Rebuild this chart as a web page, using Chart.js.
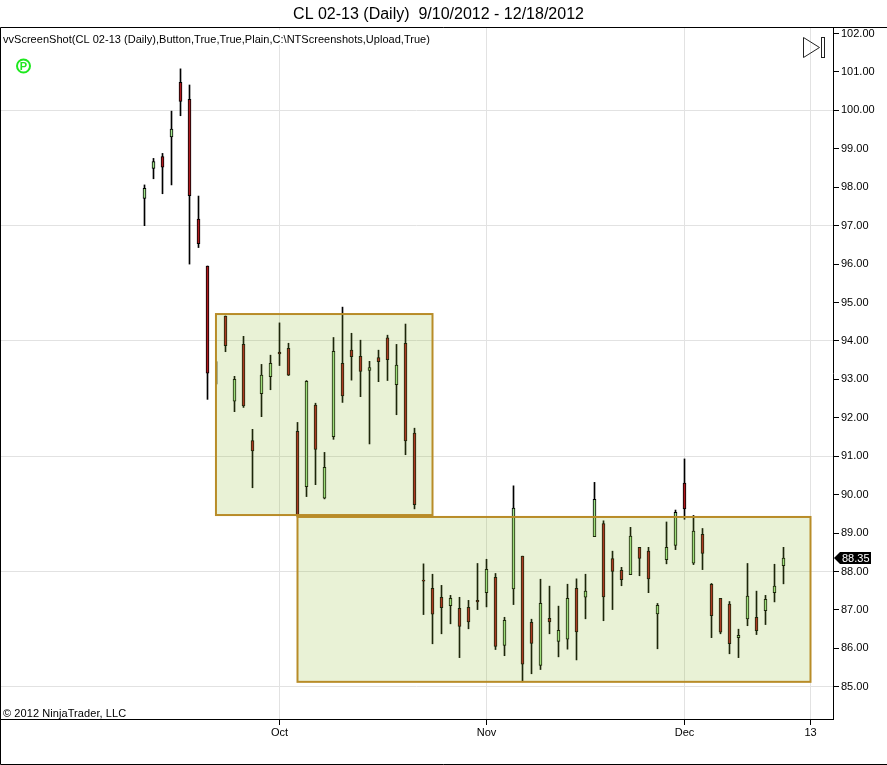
<!DOCTYPE html>
<html>
<head>
<meta charset="utf-8">
<title>CL 02-13 (Daily)</title>
<script src="https://cdn.jsdelivr.net/npm/chart.js@4"></script>
<style>
  html, body { margin: 0; padding: 0; background: #fff; }
  #wrap { width: 887px; height: 765px; }
</style>
</head>
<body>
<div id="wrap"><canvas id="chart" width="887" height="765"></canvas></div>
<script>
// daily candles, 9/10/2012 - 12/18/2012, x is the trading day number
const opens = [97.71,98.49,98.80,99.31,100.73,100.29,97.17,95.95,93.10,94.65,92.43,93.91,91.41,92.63,93.07,93.71,93.81,91.65,90.21,92.33,89.91,91.51,93.42,93.76,93.60,93.23,93.57,94.08,92.86,93.94,91.60,87.78,87.56,87.33,87.11,87.04,87.07,87.25,87.45,87.85,86.08,87.55,88.40,86.68,85.56,86.78,86.18,86.24,87.56,87.33,88.91,89.25,88.34,88.03,87.92,88.63,88.53,86.90,88.31,88.68,90.30,88.22,88.97,87.67,87.30,87.15,86.28,86.77,86.81,86.98,87.45,88.15];
const closes = [97.97,98.67,98.52,99.51,100.23,97.78,96.53,93.16,93.10,93.88,93.00,92.31,91.14,93.11,93.42,93.66,93.11,89.47,92.95,91.18,90.71,93.73,92.57,93.59,93.21,93.31,93.46,93.51,93.37,91.40,89.74,87.75,86.89,87.06,87.30,86.57,86.69,87.21,88.06,86.05,86.73,89.65,85.59,86.13,87.17,86.69,86.47,87.30,86.43,87.49,89.88,87.34,88.00,87.79,88.92,88.34,87.81,87.12,88.63,89.54,89.63,89.05,88.47,86.85,86.42,86.12,86.34,87.36,86.46,87.28,87.62,88.35];
const highs = [98.06,98.75,98.88,99.98,101.08,100.66,97.77,95.95,93.46,94.65,93.08,94.12,91.70,93.39,93.63,94.47,93.94,91.88,92.97,92.38,91.10,94.09,94.88,94.20,94.02,93.47,93.76,94.15,93.91,94.44,91.73,88.20,87.93,87.64,87.38,87.33,87.25,88.21,88.32,87.95,86.81,90.23,88.40,86.76,87.80,87.62,87.10,87.67,87.81,87.93,90.32,89.32,88.53,88.11,89.15,88.63,88.63,87.17,89.29,89.60,90.93,89.46,89.12,87.69,87.30,87.22,86.50,88.21,87.49,87.38,88.19,88.63];
const lows = [97.00,98.22,97.83,98.06,99.86,96.00,96.43,92.48,92.88,93.72,92.16,92.27,90.18,92.03,92.73,93.36,93.10,89.42,89.95,90.26,89.89,91.44,92.40,92.98,92.55,91.32,92.94,92.97,92.08,91.04,89.63,86.88,86.12,86.38,86.64,85.76,86.51,87.01,87.08,85.97,85.81,87.14,85.13,85.34,85.45,86.38,85.78,85.98,85.70,86.77,88.91,86.72,87.01,87.63,87.92,87.89,87.45,85.99,88.20,88.57,89.36,88.18,88.05,86.28,86.38,85.86,85.76,86.59,86.36,86.62,87.21,87.68];

const priceTicks = [85,86,87,88,89,90,91,92,93,94,95,96,97,98,99,100,101,102];
const dayTicks = [15,38,60,74];
const dayLabels = ["Oct","Nov","Dec","13"];

// consolidation boxes: first day, last day, top price, bottom price
const boxDayFrom = [7.94,17];
const boxDayTo = [32,74];
const boxTop = [94.70,89.42];
const boxBottom = [89.47,85.13];

const titleText = "CL 02-13 (Daily)  9/10/2012 - 12/18/2012";
const scriptText = "vvScreenShot(CL 02-13 (Daily),Button,True,True,Plain,C:\\NTScreenshots,Upload,True)";
const copyText = "\u00a9 2012 NinjaTrader, LLC";

const FONT = '"Liberation Sans", Arial, sans-serif';
const upColor = "rgb(160,228,140)";
const downColor = "rgb(175,25,30)";

const wickData = highs.map((h, i) => ({ x: i, y: [lows[i], h] }));
const bodyData = opens.map((o, i) => ({ x: i, y: [Math.min(o, closes[i]), Math.max(o, closes[i])] }));
const bodyColors = opens.map((o, i) => (closes[i] >= o ? upColor : downColor));

// everything the library has no element for: boxes, price tag, frame, icons, notes
const overlay = {
  id: "overlay",
  afterLayout(chart) {
    // title sits a little left of the canvas centre in the original
    chart.titleBlock.right -= 10;
  },
  afterDatasetsDraw(chart) {
    const c = chart.ctx;
    const xs = chart.scales.x;
    const ys = chart.scales.y;
    const area = chart.chartArea;

    c.save();
    for (let i = 0; i < boxTop.length; i++) {
      const l = xs.getPixelForValue(boxDayFrom[i]);
      const r = xs.getPixelForValue(boxDayTo[i]);
      const t = ys.getPixelForValue(boxTop[i]);
      const b = ys.getPixelForValue(boxBottom[i]);
      c.fillStyle = "rgba(145,190,50,0.2)";
      c.fillRect(l, t, r - l, b - t);
      c.strokeStyle = "rgb(184,140,40)";
      c.lineWidth = 2;
      c.strokeRect(l, t, r - l, b - t);
    }

    // note at the top left covers the grid
    c.font = "11px " + FONT;
    c.letterSpacing = "0.025px";
    c.textBaseline = "middle";
    c.fillStyle = "#fff";
    c.fillRect(2, 30, c.measureText(scriptText).width + 3, 15);
    c.fillStyle = "#000";
    c.fillText(scriptText, 3, 40);
    c.letterSpacing = "0.08px";
    c.fillText(copyText, 3, 714);
    c.letterSpacing = "0px";

    // P marker
    c.strokeStyle = "#1ee81e";
    c.lineWidth = 2;
    c.beginPath();
    c.arc(23.5, 66, 6.5, 0, Math.PI * 2);
    c.stroke();
    c.fillStyle = "#1ee81e";
    c.font = "bold 11px " + FONT;
    c.textAlign = "center";
    c.fillText("P", 23.5, 66.5);
    c.textAlign = "left";

    // play icon
    c.strokeStyle = "#222";
    c.lineWidth = 1;
    c.beginPath();
    c.moveTo(803.5, 37.5);
    c.lineTo(819.5, 47.5);
    c.lineTo(803.5, 57.5);
    c.closePath();
    c.stroke();
    c.strokeRect(821.5, 37.5, 3, 20);

    // last price tag on the axis
    const last = closes[closes.length - 1];
    const py = Math.round(ys.getPixelForValue(last));
    c.fillStyle = "#000";
    c.beginPath();
    c.moveTo(area.right + 1, py);
    c.lineTo(area.right + 7, py - 6);
    c.lineTo(871, py - 6);
    c.lineTo(871, py + 6);
    c.lineTo(area.right + 7, py + 6);
    c.closePath();
    c.fill();
    c.fillStyle = "#fff";
    c.font = "11px " + FONT;
    c.fillText(last.toFixed(2), 842, py + 0.5);

    // outer frame
    c.strokeStyle = "#000";
    c.lineWidth = 1;
    c.beginPath();
    c.moveTo(0.5, 27.5);
    c.lineTo(887, 27.5);
    c.moveTo(0.5, 27.5);
    c.lineTo(0.5, 764.5);
    c.lineTo(887, 764.5);
    c.stroke();
    c.restore();
  },
};

new Chart(document.getElementById("chart"), {
  type: "bar",
  data: {
    datasets: [
      {
        label: "Wick",
        data: wickData,
        backgroundColor: "#000",
        barThickness: 1,
        grouped: false,
        order: 2,
      },
      {
        label: "Body",
        data: bodyData,
        backgroundColor: bodyColors,
        borderColor: "#000",
        borderWidth: 1,
        borderSkipped: false,
        barThickness: 3,
        grouped: false,
        order: 1,
      },
    ],
  },
  plugins: [overlay],
  options: {
    responsive: false,
    animation: false,
    layout: { padding: 0 },
    plugins: {
      legend: { display: false },
      tooltip: { enabled: false },
      title: {
        display: true,
        text: titleText,
        color: "#000",
        font: { family: FONT, size: 16, weight: "normal" },
        padding: { top: 5, bottom: 2.8 },
      },
    },
    scales: {
      x: {
        type: "linear",
        offset: false,
        min: -16.056,
        max: 76.5,
        afterBuildTicks(scale) {
          scale.ticks = dayTicks.map((v) => ({ value: v }));
        },
        afterFit(scale) {
          scale.height = 46;
        },
        grid: {
          offset: false,
          color: "#e2e2e2",
          tickColor: "#000",
          tickLength: 6,
        },
        border: { color: "#000" },
        ticks: {
          autoSkip: false,
          maxRotation: 0,
          padding: 1,
          color: "#000",
          font: { family: FONT, size: 11 },
          callback: (v) => dayLabels[dayTicks.indexOf(v)],
        },
      },
      y: {
        position: "right",
        min: 84.163,
        max: 102.169,
        beginAtZero: false,
        afterBuildTicks(scale) {
          scale.ticks = priceTicks.map((v) => ({ value: v }));
        },
        afterFit(scale) {
          scale.width = 54;
        },
        grid: {
          color: (ctx) => (ctx.tick && ctx.tick.value % 3 === 1 ? "#e2e2e2" : "rgba(0,0,0,0)"),
          tickColor: "#000",
          tickLength: 6,
        },
        border: { color: "#000" },
        ticks: {
          autoSkip: false,
          padding: 2,
          color: "#000",
          font: { family: FONT, size: 11 },
          callback: (v) => v.toFixed(2),
        },
      },
    },
  },
});
</script>
</body>
</html>
